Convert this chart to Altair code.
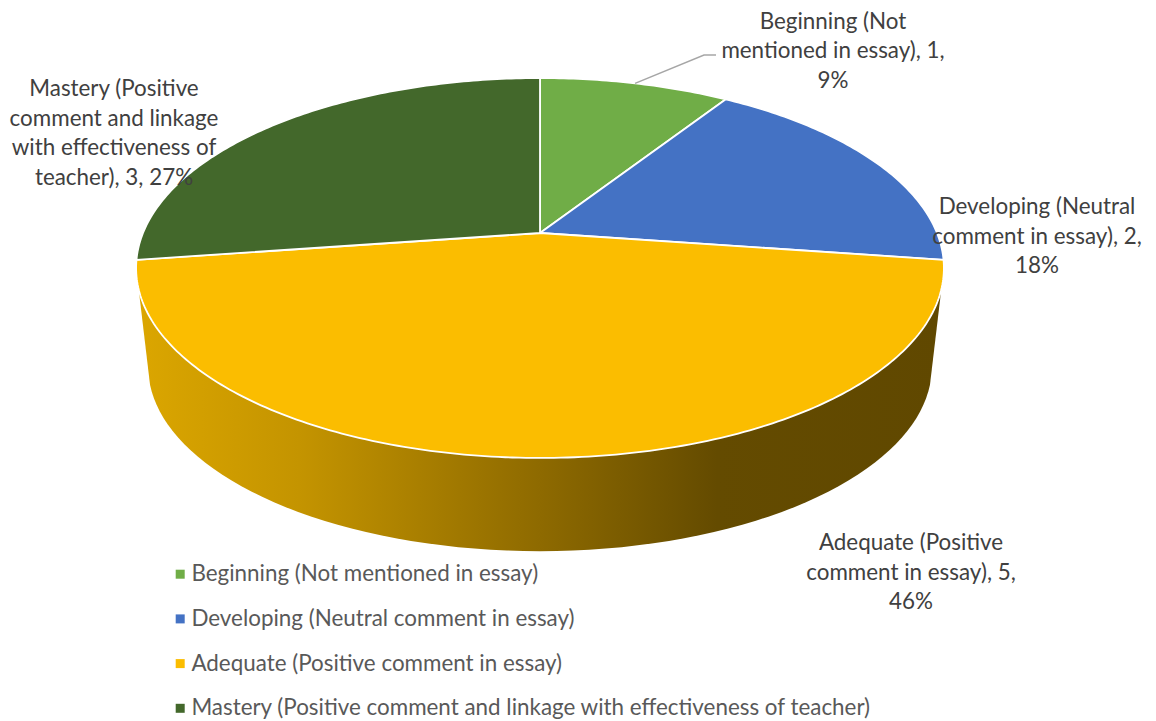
import math
import altair as alt

# ---- chart values ----
categories = [
    "Beginning (Not mentioned in essay)",
    "Developing (Neutral comment in essay)",
    "Adequate (Positive comment in essay)",
    "Mastery (Positive comment and linkage with effectiveness of teacher)",
]
counts = [1, 2, 5, 3]
percent_labels = ["9%", "18%", "46%", "27%"]
label_texts = [
    "Beginning (Not\nmentioned in essay), 1,\n9%",
    "Developing (Neutral\ncomment in essay), 2,\n18%",
    "Adequate (Positive\ncomment in essay), 5,\n46%",
    "Mastery (Positive\ncomment and linkage\nwith effectiveness of\nteacher), 3, 27%",
]
slice_colors = ["#70AD47", "#4472C4", "#FBBD00", "#43682B"]

# ---- layout (reference pixel frame) ----
PAGE = 8
W, H = 1140, 713
CX, CY, RX, RY, K = 540.0, 233.0, 397.0, 183.5, 0.1842
LOW_CY, LOW_S = 333.0, 0.97
label_anchor = [(833, 21.5), (1037, 207), (911, 543), (114, 89)]
leader_bend = [(704, 55), (716, 55)]
FONT = "Lato"
TEXT = "#404040"
FS = 22.4


def rim(theta, cy=CY, s=1.0):
    u, v = math.sin(theta), math.cos(theta)
    d = 1 + K * v
    return [CX + s * RX * u / d, cy - s * RY * v / d]


total = sum(counts)
features = []
start = 0.0
mid_angles = []
for cat, n in zip(categories, counts):
    sweep = n / total * 2 * math.pi
    steps = max(12, int(n * 40))
    ring = [rim(start + sweep * i / steps) for i in range(steps + 1)]
    poly = [[CX, CY]] + ring + [[CX, CY]]
    features.append({
        "type": "Feature",
        "properties": {"category": cat},
        "geometry": {"type": "Polygon", "coordinates": [poly]},
    })
    mid_angles.append(start + sweep / 2)
    start += sweep

# visible wall of the pie: from the rim, down to the lower ring and back
side = [rim(math.radians(107))]
side += [rim(math.radians(a), LOW_CY, LOW_S) for a in range(106, 255, 2)]
side += [rim(math.radians(253))]
side.append(side[0])
side_feature = {
    "type": "Feature",
    "properties": {},
    "geometry": {"type": "Polygon", "coordinates": [side]},
}

proj = dict(type="identity", scale=1, translate=[-PAGE, -PAGE])
x_scale = alt.Scale(domain=[PAGE, PAGE + W], range=[0, W])
y_scale = alt.Scale(domain=[PAGE, PAGE + H], range=[0, H])

wall = alt.Chart(alt.Data(values=[side_feature])).mark_geoshape(
    fill=alt.Gradient(
        gradient="linear",
        x1=0, x2=1, y1=0, y2=0,
        stops=[
            alt.GradientStop(offset=0, color="#DBA600"),
            alt.GradientStop(offset=0.2, color="#C49400"),
            alt.GradientStop(offset=0.5, color="#8E6A00"),
            alt.GradientStop(offset=0.72, color="#644B00"),
            alt.GradientStop(offset=1, color="#604800"),
        ],
    ),
    strokeWidth=0,
).project(**proj)

top = alt.Chart(alt.Data(values=features)).mark_geoshape(
    stroke="white", strokeWidth=1.8
).encode(
    color=alt.Color(
        "properties.category:N",
        scale=alt.Scale(domain=categories, range=slice_colors),
        legend=alt.Legend(
            title=None,
            orient="none",
            legendX=161,
            legendY=555,
            symbolType="square",
            symbolSize=81,
            symbolStrokeWidth=0,
            labelFont=FONT,
            labelFontSize=FS,
            labelColor="#595959",
            labelLimit=900,
            labelOffset=0,
            rowPadding=21.7,
            padding=0,
        ),
    )
).project(**proj)

leader_points = [rim(mid_angles[0])] + [list(p) for p in leader_bend]
leader = alt.Chart(alt.Data(values=[
    {"x": p[0], "y": p[1], "i": i} for i, p in enumerate(leader_points)
])).mark_line(color="#A6A6A6", strokeWidth=1.5).encode(
    x=alt.X("x:Q", scale=x_scale, axis=None),
    y=alt.Y("y:Q", scale=y_scale, axis=None),
    order="i:O",
)

labels = alt.Chart(alt.Data(values=[
    {"x": a[0], "y": a[1], "t": t} for a, t in zip(label_anchor, label_texts)
])).mark_text(
    font=FONT, fontSize=FS, color=TEXT, align="center", baseline="middle",
    lineBreak="\n", lineHeight=29.5,
).encode(
    x=alt.X("x:Q", scale=x_scale, axis=None),
    y=alt.Y("y:Q", scale=y_scale, axis=None),
    text="t:N",
)

chart = alt.layer(wall, top, leader, labels).properties(
    width=W, height=H, padding=0, background="white",
    autosize=alt.AutoSizeParams(type="none"),
).configure_view(stroke=None)

chart.save("out.html", embed_options={"renderer": "svg", "actions": False})
